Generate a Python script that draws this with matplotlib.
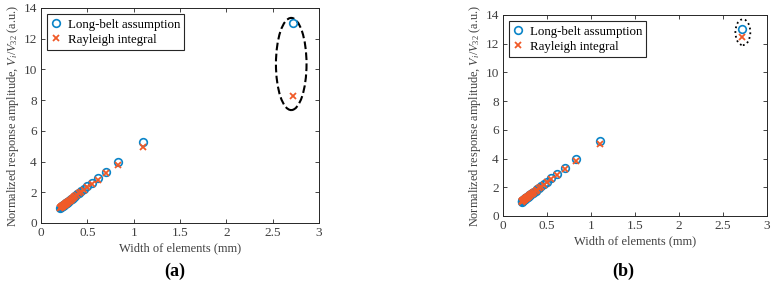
import matplotlib
matplotlib.use('Agg')
import matplotlib.pyplot as plt
from matplotlib.patches import Ellipse

plt.rcParams['font.family'] = ['Liberation Serif', 'DejaVu Serif']
plt.rcParams['mathtext.fontset'] = 'custom'
plt.rcParams['mathtext.it'] = 'Liberation Serif:italic'
plt.rcParams['mathtext.rm'] = 'Liberation Serif'

# widths of elements (mm)
width = [0.21, 0.215, 0.22, 0.225, 0.23, 0.235, 0.24, 0.245, 0.25, 0.255, 0.26,
         0.265, 0.27, 0.275, 0.28, 0.29, 0.30, 0.31, 0.32, 0.33, 0.34, 0.355,
         0.37, 0.39, 0.41, 0.43, 0.46, 0.50, 0.55, 0.61, 0.70, 0.83, 1.10, 2.72]
long_belt = [1.00, 1.03, 1.05, 1.08, 1.10, 1.12, 1.15, 1.17, 1.20, 1.22, 1.24,
             1.27, 1.29, 1.31, 1.34, 1.39, 1.43, 1.48, 1.53, 1.58, 1.63, 1.70,
             1.77, 1.86, 1.96, 2.06, 2.20, 2.40, 2.63, 2.90, 3.35, 3.98, 5.25, 13.0]
rayleigh_a = [0.98, 1.01, 1.03, 1.06, 1.08, 1.10, 1.13, 1.15, 1.18, 1.20, 1.22,
              1.25, 1.27, 1.29, 1.32, 1.37, 1.41, 1.46, 1.51, 1.56, 1.60, 1.67,
              1.74, 1.83, 1.92, 2.02, 2.15, 2.33, 2.55, 2.82, 3.25, 3.80, 4.95, 8.25]
rayleigh_b = [0.98, 1.01, 1.03, 1.06, 1.08, 1.10, 1.13, 1.15, 1.18, 1.20, 1.22,
              1.25, 1.27, 1.29, 1.32, 1.37, 1.41, 1.46, 1.51, 1.56, 1.60, 1.67,
              1.74, 1.83, 1.92, 2.02, 2.15, 2.35, 2.57, 2.84, 3.27, 3.82, 5.02, 12.5]

blue = '#0a84c8'
orange = '#f05a28'

fig = plt.figure(figsize=(7.77, 2.86), dpi=100)
ax_a = fig.add_axes([0.0528, 0.2203, 0.3578, 0.752])
ax_b = fig.add_axes([0.6474, 0.2448, 0.3398, 0.7028])

panels = [(ax_a, rayleigh_a, Ellipse((2.70, 10.35), 0.33, 6.0), '--', '(a)', 0.225),
          (ax_b, rayleigh_b, Ellipse((2.725, 12.8), 0.17, 1.8), ':', '(b)', 0.802)]

for ax, ray, ell, ls, tag, tx in panels:
    ax.plot(width, long_belt, 'o', mfc='none', mec=blue, ms=5.5, mew=1.2,
            label='Long-belt assumption')
    ax.plot(width, ray, 'x', color=orange, ms=4, mew=1.3,
            label='Rayleigh integral')
    ell.set_fill(False)
    ell.set_edgecolor('black')
    ell.set_linestyle(ls)
    ell.set_linewidth(1.5 if ls == '--' else 1.3)
    ax.add_patch(ell)
    ax.set_xlim(0, 3)
    ax.set_ylim(0, 14)
    ax.set_xticks([0, 0.5, 1, 1.5, 2, 2.5, 3])
    ax.set_xticklabels(['0', '0.5', '1', '1.5', '2', '2.5', '3'])
    ax.set_yticks(range(0, 15, 2))
    ax.tick_params(direction='in', top=True, right=True, length=3, width=0.6,
                   labelsize=9.5, colors='#262626', labelcolor='#404040', pad=3)
    for s in ax.spines.values():
        s.set_linewidth(0.7)
        s.set_color('#262626')
    ax.set_xlabel('Width of elements (mm)', fontsize=9, color='#404040', labelpad=2)
    ax.set_ylabel(r'Normalized response amplitude, $V_i/V_{32}$ (a.u.)',
                  fontsize=8.8, color='#404040', labelpad=2)
    leg = ax.legend(loc='upper left', fontsize=9.3, frameon=True, fancybox=False,
                    handlelength=0.6, handletextpad=0.6, borderpad=0.35,
                    labelspacing=0.2, borderaxespad=0.5, framealpha=1)
    leg.get_frame().set_edgecolor('#262626')
    leg.get_frame().set_linewidth(0.8)
    fig.text(tx, 0.05, tag, ha='center', va='center', fontsize=13,
             fontweight='bold')

fig.savefig('out.png', dpi=100)
